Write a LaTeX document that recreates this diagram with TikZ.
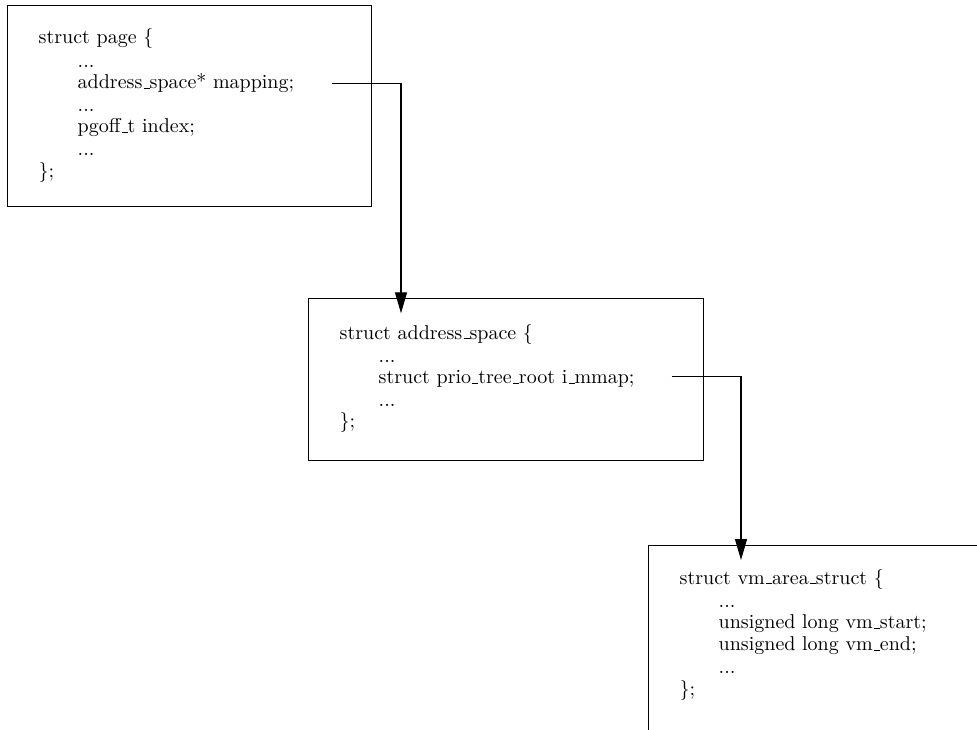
\documentclass[tikz,border=0pt]{standalone}
\usetikzlibrary{arrows.meta}
\newcommand{\uscore}{\leavevmode\kern.06em\vbox{\hrule width.3em}}
\begin{document}
\begin{tikzpicture}[x=1pt,y=1pt,>={Triangle[length=10.5pt,width=6pt]},
  structbox/.style={draw,anchor=south west,inner sep=0pt},
  codeline/.style={anchor=base west,inner sep=0pt}]
\useasboundingbox (0,0) rectangle (488.5,364.5);
% boxes
\node[structbox,minimum width=181.8pt,minimum height=100.5pt] (page) at (3.65,261.15) {};
\node[structbox,minimum width=197.2pt,minimum height=81.25pt] (asp) at (154.2,134) {};
\node[structbox,minimum width=205.8pt,minimum height=111.65pt] (vma) at (324.2,-20) {};
% struct page
\node[codeline] (pg1) at (19.15,342.5) {struct page \{};
\node[codeline] (pg2) at (38.65,330.9) {...};
\node[codeline] (mapping) at (38.65,320.3) {address\uscore space* mapping;};
\node[codeline] (pg4) at (38.65,308.7) {...};
\node[codeline] (index) at (38.65,298.1) {pgoff\uscore t index;};
\node[codeline] (pg6) at (38.65,286.5) {...};
\node[codeline] (pg7) at (19.15,275.9) {\};};
% struct address_space
\node[codeline] (as1) at (169.65,195) {struct address\uscore space \{};
\node[codeline] (as2) at (189.15,183.4) {...};
\node[codeline] (immap) at (189.15,172.8) {struct prio\uscore tree\uscore root i\uscore mmap;};
\node[codeline] (as4) at (189.15,161.2) {...};
\node[codeline] (as5) at (169.65,150.6) {\};};
% struct vm_area_struct
\node[codeline] (vm1) at (339.65,72.5) {struct vm\uscore area\uscore struct \{};
\node[codeline] (vm2) at (359.15,60.9) {...};
\node[codeline] (vmstart) at (359.15,50.3) {unsigned long vm\uscore start;};
\node[codeline] (vmend) at (359.15,39.2) {unsigned long vm\uscore end;};
\node[codeline] (vm5) at (359.15,27.6) {...};
\node[codeline] (vm6) at (339.65,17) {\};};
% pointers
\coordinate (mapfrom) at (165.85,322.85);
\coordinate (mapto) at (200.5,207.85);
\coordinate (immapfrom) at (335.85,176.15);
\coordinate (immapto) at (370.5,84.5);
\draw[->,semithick] (mapfrom) -| (mapto);
\draw[->,semithick] (immapfrom) -| (immapto);
\end{tikzpicture}
\end{document}
